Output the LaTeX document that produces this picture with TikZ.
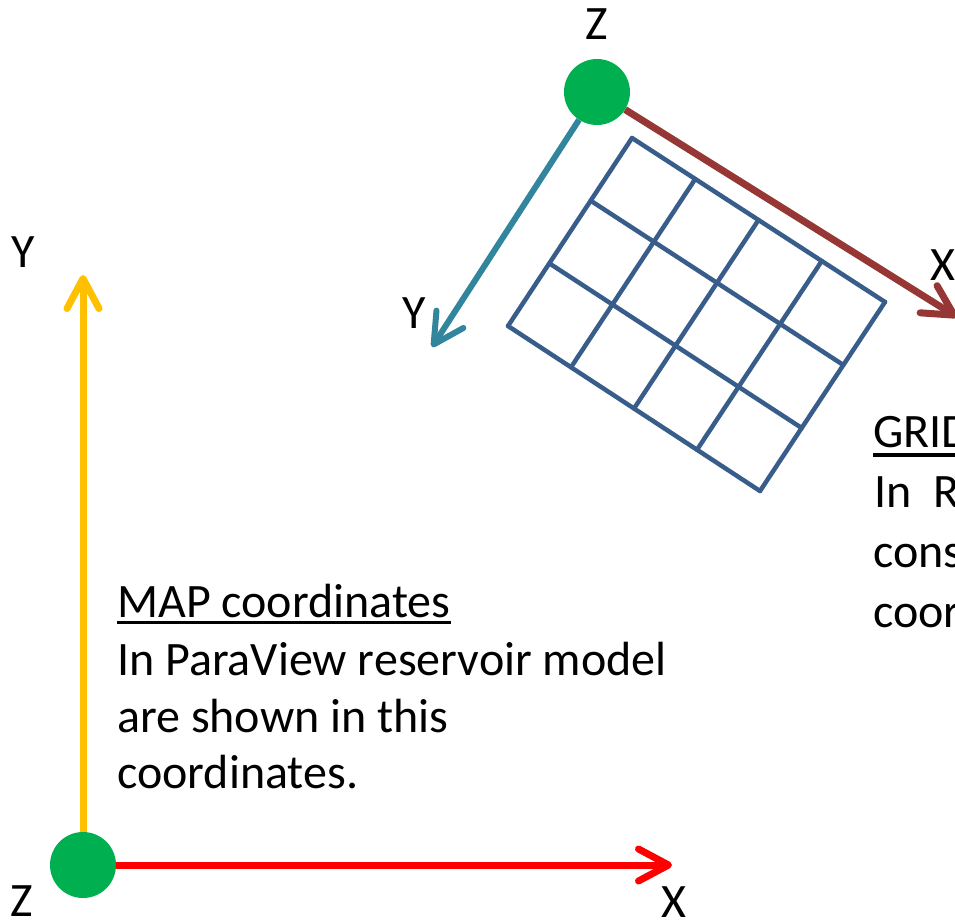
\documentclass[tikz,border=0pt]{standalone}
\usepackage{fontspec}
\setmainfont{Carlito}
\usetikzlibrary{
    arrows.meta,
    calc
}

\definecolor{mapred}{HTML}{FF0000}
\definecolor{mapyellow}{HTML}{FFC000}
\definecolor{dotgreen}{HTML}{00B050}
\definecolor{gridred}{HTML}{953735}
\definecolor{gridteal}{HTML}{31859C}
\definecolor{gridblue}{HTML}{385D8A}

\tikzset{
    axis/.style={line width=7pt, -{Straight Barb[length=30pt,width=32pt,round]}},
    origin/.style={circle, fill=dotgreen, minimum size=66pt, inner sep=0pt},
    axislabel/.style={inner sep=0pt, font=\fontsize{48}{58}\selectfont},
    note/.style={inner sep=0pt, anchor=base west, font=\fontsize{48}{58}\selectfont},
    cellline/.style={gridblue, line width=4.5pt, line cap=round}
}

\begin{document}
\begin{tikzpicture}[x=1pt,y=-1pt]
\useasboundingbox (0,0) rectangle (955,920);
\clip (0,0) rectangle (955,920);

% Grid cells
\coordinate (gT) at (632,138);
\coordinate (gR) at (885,302);
\coordinate (gB) at (760,491);
\coordinate (gL) at (508,326);
\foreach \i in {0,...,4}
    \draw[cellline] ($(gT)!\i/4!(gR)$) -- ($(gL)!\i/4!(gB)$);
\foreach \j in {0,...,3}
    \draw[cellline] ($(gT)!\j/3!(gL)$) -- ($(gR)!\j/3!(gB)$);

% GRID axes
\coordinate (gridXend) at (957,317);
\coordinate (gridYend) at (432,347);
\node[origin] (gridO) at (597,92) {};
\draw[axis, gridred] (gridO) -- (gridXend);
\draw[axis, gridteal, line width=6pt] (gridO) -- (gridYend);
\node[axislabel] (gridZlab) at (597,24) {Z};
\node[axislabel] (gridXlab) at (943,265) {X};
\node[axislabel] (gridYlab) at (414,313) {Y};

% MAP axes
\coordinate (mapXend) at (672,865);
\coordinate (mapYend) at (83,275);
\node[origin] (mapO) at (83,865) {};
\draw[axis, mapred] (mapO) -- (mapXend);
\draw[axis, mapyellow] (mapO) -- (mapYend);
\node[axislabel] (mapZlab) at (22,901) {Z};
\node[axislabel] (mapXlab) at (674,902) {X};
\node[axislabel] (mapYlab) at (23,252) {Y};

% MAP text
\node[note] (mapTitle) at (117,617) {MAP coordinates};
\draw[line width=3.5pt] ([yshift=-5.5pt]mapTitle.base west) -- ([yshift=-5.5pt]mapTitle.base east);
\node[note] (mapLineA) at (117,675) {In ParaView reservoir model};
\node[note] (mapLineB) at (117,732) {are shown in this};
\node[note] (mapLineC) at (117,788) {coordinates.};

% GRID text (runs off the right edge)
\node[note] (gridTitle) at (873,447) {GRID};
\draw[line width=3.5pt] ([yshift=-8pt]gridTitle.base west) -- ([yshift=-8pt]gridTitle.base east);
\node[note] (gridLineA) at (874,507) {In\hspace{11pt} R};
\node[note] (gridLineB) at (873,567) {cons};
\node[note] (gridLineC) at (873,627) {coor};

\end{tikzpicture}
\end{document}
